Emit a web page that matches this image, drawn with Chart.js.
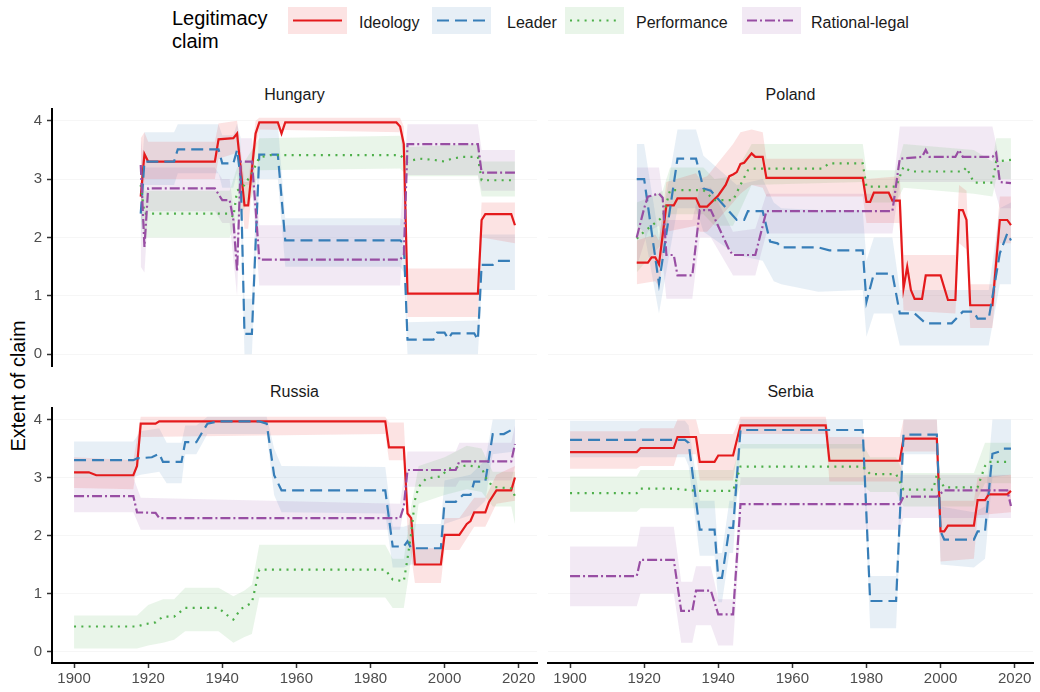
<!DOCTYPE html>
<html>
<head>
<meta charset="utf-8">
<script src="https://cdn.jsdelivr.net/npm/chart.js@4.4.1/dist/chart.umd.min.js"></script>
<style>
  html, body { margin: 0; padding: 0; background: #fff; }
  body { font-family: "Liberation Sans", Arial, Helvetica, sans-serif; }
  #wrap { position: relative; width: 1040px; height: 692px; overflow: hidden; background: #fff; }
  canvas { position: absolute; display: block; }
  .strip { position: absolute; width: 485px; text-align: center; font-size: 16px; line-height: 16px; color: #1a1a1a; }
  #ytitle { position: absolute; left: -82px; top: 374px; width: 200px; height: 24px; line-height: 24px;
            font-size: 20px; color: #000; text-align: center; transform: rotate(-90deg); }
  #ltitle { position: absolute; left: 172px; top: 6.5px; font-size: 20px; line-height: 23px; color: #000; }
  .lkey { position: absolute; top: 7px; }
  .ltext { position: absolute; top: 14.5px; font-size: 16px; line-height: 16px; color: #1a1a1a; white-space: nowrap; }
</style>
</head>
<body>
<div id="wrap">
  <div id="ltitle">Legitimacy<br>claim</div>
  <div id="legend"></div>

  <div class="strip" style="left:52px; top:86.5px;">Hungary</div>
  <div class="strip" style="left:548px; top:86.5px;">Poland</div>
  <div class="strip" style="left:52px; top:383.5px;">Russia</div>
  <div class="strip" style="left:548px; top:383.5px;">Serbia</div>

  <div id="ytitle">Extent of claim</div>

  <canvas id="hungary" width="540" height="270" style="left:0px; top:100px;"></canvas>
  <canvas id="poland" width="500" height="270" style="left:540px; top:100px;"></canvas>
  <canvas id="russia" width="540" height="292" style="left:0px; top:400px;"></canvas>
  <canvas id="serbia" width="500" height="292" style="left:540px; top:400px;"></canvas>
</div>

<script>
// ---- axis ticks and claim categories ----
const xTicks = [1900, 1920, 1940, 1960, 1980, 2000, 2020];
const yTicks = [0, 1, 2, 3, 4];
const claimNames = ['Ideology', 'Leader', 'Performance', 'Rational-legal'];

// ---- Hungary: [year, estimate] and [year, lower, upper] ----
const hunIdeology = [[1918,2.7],[1919,3.43],[1920,3.3],[1938,3.3],[1939,3.68],[1943,3.7],[1944,3.78],[1946,2.55],[1947,2.55],[1949,3.78],[1950,3.97],[1955,3.97],[1956,3.78],[1957,3.97],[1987,3.97],[1988,3.9],[1989,3.6],[1990,1.04],[2009,1.04],[2010,2.3],[2011,2.4],[2018,2.4],[2019,2.21]];
const hunIdeologyBand = [[1918,2.3,3.7],[1919,3.0,3.8],[1920,3.0,3.64],[1938,3.0,3.64],[1939,3.35,3.95],[1944,3.45,4.0],[1946,2.15,2.95],[1947,2.15,2.95],[1949,3.5,4.0],[1950,3.85,4.05],[1988,3.8,4.05],[1989,3.3,3.9],[1990,0.64,1.47],[2009,0.64,1.47],[2010,2.0,2.6],[2019,1.9,2.6]];
const hunLeader = [[1918,2.41],[1919,3.3],[1927,3.3],[1928,3.51],[1939,3.51],[1940,3.27],[1943,3.27],[1944,3.5],[1945,3.0],[1946,0.35],[1948,0.35],[1950,3.42],[1955,3.42],[1957,1.95],[1988,1.95],[1989,1.9],[1990,0.25],[1997,0.25],[1998,0.37],[2000,0.37],[2001,0.27],[2002,0.36],[2008,0.36],[2009,0.25],[2010,1.53],[2013,1.53],[2014,1.6],[2019,1.6]];
const hunLeaderBand = [[1918,1.9,3.0],[1919,2.9,3.8],[1927,2.9,3.8],[1928,3.1,3.94],[1939,3.1,3.94],[1940,2.85,3.75],[1943,2.85,3.75],[1944,3.1,3.95],[1945,2.3,3.7],[1946,0,0.95],[1948,0,0.95],[1950,3.0,3.95],[1955,3.0,3.95],[1957,1.5,2.33],[1988,1.5,2.33],[1989,1.4,2.3],[1990,0,0.55],[2009,0,0.58],[2010,1.1,2.05],[2019,1.1,2.05]];
const hunPerformance = [[1918,2.9],[1919,2.41],[1942,2.41],[1943,2.35],[1944,2.8],[1946,2.9],[1948,3.1],[1950,3.37],[1953,3.41],[1988,3.41],[1990,3.3],[1993,3.35],[1997,3.33],[2000,3.3],[2002,3.35],[2005,3.38],[2009,3.38],[2010,2.98],[2019,2.98]];
const hunPerformanceBand = [[1918,2.3,3.3],[1919,2.0,2.8],[1942,2.0,2.8],[1944,2.3,3.2],[1946,2.5,3.3],[1948,2.7,3.5],[1950,3.15,3.7],[1988,3.18,3.74],[1990,3.05,3.55],[2009,3.05,3.6],[2010,2.7,3.3],[2019,2.7,3.3]];
const hunRational = [[1918,3.24],[1919,1.84],[1920,2.84],[1938,2.84],[1940,2.64],[1942,2.64],[1943,2.3],[1944,1.42],[1945,3.3],[1948,3.3],[1949,2.5],[1950,1.62],[1988,1.62],[1989,1.7],[1990,3.6],[2009,3.6],[2010,3.11],[2019,3.11]];
const hunRationalBand = [[1918,1.5,3.7],[1919,1.4,3.2],[1920,2.45,3.2],[1938,2.45,3.2],[1940,2.25,3.0],[1942,2.25,3.0],[1944,1.0,2.0],[1945,2.9,3.7],[1948,2.9,3.7],[1950,1.18,2.21],[1988,1.18,2.21],[1990,3.07,3.94],[2009,3.07,3.94],[2010,2.8,3.5],[2019,2.8,3.5]];

// ---- Poland ----
const polIdeology = [[1918,1.57],[1921,1.57],[1922,1.66],[1923,1.66],[1924,1.54],[1926,2.55],[1928,2.55],[1929,2.67],[1934,2.67],[1935,2.53],[1937,2.53],[1940,2.72],[1942,2.9],[1943,3.05],[1944,3.08],[1945,3.12],[1946,3.26],[1947,3.28],[1949,3.44],[1950,3.38],[1952,3.38],[1953,3.02],[1979,3.02],[1980,2.61],[1981,2.61],[1982,2.77],[1986,2.77],[1987,2.63],[1989,2.63],[1990,1.13],[1991,1.5],[1992,1.1],[1993,0.95],[1995,0.95],[1996,1.35],[2000,1.35],[2002,0.93],[2004,0.93],[2005,2.47],[2006,2.47],[2007,2.3],[2008,0.84],[2014,0.84],[2016,2.3],[2018,2.3],[2019,2.21]];
const polIdeologyBand = [[1918,1.2,1.95],[1923,1.25,2.05],[1924,1.15,1.95],[1926,2.1,2.95],[1934,2.2,3.1],[1935,2.1,3.0],[1937,2.1,3.05],[1944,2.6,3.6],[1946,2.75,3.8],[1949,2.9,3.85],[1952,2.85,3.8],[1953,2.7,3.35],[1979,2.7,3.35],[1980,2.25,3.0],[1989,2.25,3.05],[1990,0.75,1.7],[2004,0.7,1.7],[2005,1.9,2.9],[2007,1.8,2.8],[2008,0.45,1.2],[2014,0.45,1.2],[2016,1.9,2.7],[2019,1.9,2.7]];
const polLeader = [[1918,3.0],[1920,3.0],[1924,1.21],[1929,3.35],[1934,3.35],[1936,2.84],[1938,2.8],[1945,2.3],[1947,2.3],[1948,2.45],[1952,2.45],[1954,1.93],[1956,1.9],[1957,1.83],[1967,1.83],[1970,1.78],[1979,1.78],[1980,0.9],[1982,1.38],[1987,1.38],[1989,0.7],[1993,0.7],[1996,0.53],[2003,0.53],[2006,0.73],[2009,0.73],[2010,0.61],[2013,0.61],[2016,1.73],[2018,2.07],[2019,1.95]];
const polLeaderBand = [[1918,2.2,3.6],[1920,2.1,3.6],[1924,0.7,2.0],[1929,2.5,3.85],[1934,2.5,3.85],[1936,2.1,3.4],[1945,1.7,2.9],[1952,1.6,3.0],[1955,1.25,2.6],[1957,1.2,2.5],[1967,1.07,2.47],[1979,1.1,2.47],[1980,0.3,1.6],[1982,0.7,2.0],[1987,0.7,2.0],[1989,0.15,1.1],[2013,0.15,1.1],[2016,1.2,2.5],[2019,1.2,2.6]];
const polPerformance = [[1918,1.98],[1920,2.1],[1922,2.2],[1925,2.35],[1927,2.81],[1936,2.81],[1939,2.64],[1944,2.64],[1946,2.9],[1948,3.15],[1949,3.18],[1968,3.18],[1970,3.27],[1979,3.27],[1980,2.87],[1988,2.87],[1990,3.21],[1992,3.13],[2006,3.13],[2007,3.2],[2009,2.94],[2014,2.94],[2015,3.3],[2019,3.33]];
const polPerformanceBand = [[1918,1.4,2.6],[1922,1.7,2.7],[1925,1.9,2.8],[1927,2.4,3.2],[1936,2.4,3.2],[1939,2.2,3.0],[1944,2.2,3.05],[1949,2.9,3.6],[1979,2.95,3.6],[1980,2.6,3.15],[1988,2.6,3.15],[1990,2.85,3.6],[2009,2.75,3.5],[2014,2.7,3.3],[2015,3.0,3.7],[2019,3.0,3.7]];
const polRational = [[1918,2.0],[1920,2.5],[1921,2.7],[1924,2.75],[1925,2.68],[1926,1.7],[1928,1.7],[1929,1.35],[1933,1.35],[1935,2.47],[1938,2.47],[1943,1.78],[1944,1.7],[1950,1.7],[1953,2.45],[1987,2.45],[1989,3.35],[1995,3.38],[1996,3.5],[1997,3.38],[2004,3.38],[2005,3.5],[2006,3.38],[2014,3.38],[2015,3.45],[2016,2.95],[2019,2.93]];
const polRationalBand = [[1918,1.5,3.2],[1921,2.1,3.2],[1924,2.2,3.2],[1926,0.95,2.3],[1933,0.95,2.3],[1935,2.0,2.85],[1938,2.0,2.85],[1944,1.35,2.1],[1950,1.35,2.15],[1953,2.07,2.75],[1987,2.07,2.75],[1989,2.95,3.9],[2014,2.95,3.9],[2016,2.5,3.3],[2019,2.5,3.3]];

// ---- Russia ----
const rusIdeology = [[1900,3.09],[1904,3.09],[1906,3.04],[1916,3.04],[1917,3.2],[1918,3.93],[1922,3.93],[1923,3.97],[1984,3.97],[1985,3.52],[1989,3.52],[1990,2.38],[1991,2.3],[1992,1.5],[1999,1.5],[2000,2.01],[2004,2.01],[2006,2.2],[2007,2.25],[2008,2.4],[2011,2.4],[2012,2.58],[2014,2.78],[2018,2.78],[2019,3.0]];
const rusIdeologyBand = [[1900,2.82,3.35],[1916,2.8,3.3],[1918,3.7,4.05],[1984,3.75,4.05],[1985,3.3,3.95],[1989,3.3,3.95],[1990,2.1,2.7],[1992,1.18,1.78],[1999,1.18,1.78],[2000,1.75,2.3],[2004,1.75,2.3],[2008,2.15,2.65],[2011,2.15,2.65],[2014,2.55,3.05],[2019,2.6,3.2]];
const rusLeader = [[1900,3.3],[1916,3.3],[1917,3.33],[1921,3.35],[1923,3.41],[1924,3.27],[1929,3.27],[1930,3.61],[1933,3.61],[1936,3.93],[1939,3.97],[1950,3.97],[1952,3.93],[1954,3.04],[1956,2.78],[1984,2.78],[1986,1.81],[1989,1.81],[1990,1.9],[1991,1.78],[1999,1.78],[2000,2.58],[2003,2.58],[2005,2.7],[2007,2.7],[2008,2.93],[2011,2.93],[2013,3.75],[2016,3.75],[2018,3.82],[2019,3.82]];
const rusLeaderBand = [[1900,3.0,3.62],[1916,3.0,3.62],[1918,3.05,3.8],[1923,3.1,3.85],[1925,2.9,3.6],[1929,2.9,3.6],[1930,3.4,3.9],[1933,3.4,3.9],[1936,3.75,4.05],[1952,3.75,4.05],[1954,2.7,3.5],[1956,2.4,3.2],[1984,2.38,3.18],[1986,1.45,2.15],[1989,1.45,2.15],[1991,1.5,2.2],[1999,1.5,2.2],[2000,2.2,2.95],[2007,2.35,3.05],[2011,2.6,3.3],[2013,3.4,4.0],[2019,3.45,4.0]];
const rusPerformance = [[1900,0.43],[1917,0.43],[1919,0.47],[1922,0.5],[1924,0.6],[1927,0.6],[1930,0.75],[1939,0.75],[1941,0.64],[1943,0.55],[1945,0.73],[1948,0.84],[1950,1.41],[1984,1.41],[1986,1.24],[1989,1.21],[1990,1.6],[1991,2.04],[1992,2.61],[1993,2.84],[1995,2.98],[1999,3.02],[2001,3.15],[2006,3.21],[2010,3.18],[2011,3.01],[2013,2.84],[2018,2.81],[2019,2.68]];
const rusPerformanceBand = [[1900,0.05,0.62],[1917,0.05,0.62],[1920,0.1,0.8],[1924,0.15,0.9],[1927,0.2,0.9],[1930,0.35,1.1],[1939,0.35,1.1],[1943,0.15,0.95],[1946,0.25,1.05],[1948,0.3,1.15],[1950,0.93,1.84],[1984,0.93,1.84],[1986,0.75,1.6],[1989,0.75,1.6],[1991,1.6,2.5],[1993,2.55,3.2],[2000,2.7,3.35],[2006,2.8,3.55],[2010,2.75,3.5],[2013,2.5,3.1],[2018,2.5,3.1],[2019,2.2,3.1]];
const rusRational = [[1900,2.68],[1916,2.68],[1917,2.4],[1922,2.39],[1923,2.3],[1988,2.3],[1989,2.5],[1990,3.13],[2003,3.13],[2004,3.28],[2018,3.28],[2019,3.58]];
const rusRationalBand = [[1900,2.4,3.0],[1916,2.4,3.0],[1918,2.1,2.65],[1988,2.1,2.55],[1990,2.84,3.45],[2003,2.84,3.45],[2004,2.95,3.6],[2018,2.95,3.6],[2019,3.2,3.9]];

// ---- Serbia ----
const srbIdeology = [[1900,3.44],[1918,3.44],[1919,3.51],[1928,3.51],[1929,3.7],[1934,3.7],[1935,3.27],[1939,3.27],[1940,3.38],[1944,3.38],[1946,3.9],[1969,3.9],[1970,3.29],[1989,3.29],[1990,3.67],[1999,3.67],[2000,2.07],[2001,2.07],[2002,2.17],[2009,2.17],[2010,2.61],[2012,2.61],[2013,2.71],[2018,2.71],[2019,2.77]];
const srbIdeologyBand = [[1900,3.15,3.8],[1918,3.15,3.8],[1919,3.2,3.85],[1928,3.2,3.85],[1929,3.4,4.0],[1934,3.4,4.0],[1935,2.95,3.75],[1944,2.95,3.75],[1946,3.75,4.05],[1969,3.75,4.05],[1970,2.93,3.7],[1989,2.93,3.7],[1990,3.45,4.0],[1999,3.45,4.0],[2000,1.55,2.6],[2009,1.6,2.6],[2010,2.35,3.0],[2019,2.4,3.05]];
const srbLeader = [[1900,3.65],[1931,3.65],[1932,3.6],[1935,2.1],[1939,2.1],[1940,1.27],[1941,1.27],[1943,2.13],[1944,2.13],[1946,3.82],[1979,3.82],[1981,0.87],[1988,0.87],[1990,3.74],[1999,3.74],[2000,2.07],[2001,1.93],[2009,1.93],[2010,2.07],[2012,2.07],[2014,3.41],[2016,3.45],[2017,3.5],[2019,3.5]];
const srbLeaderBand = [[1900,3.35,3.98],[1931,3.35,3.98],[1932,3.2,3.9],[1935,1.65,2.6],[1939,1.65,2.6],[1940,0.85,1.7],[1941,0.85,1.7],[1943,1.7,2.6],[1944,1.7,2.6],[1946,3.5,4.0],[1979,3.5,4.0],[1981,0.4,1.3],[1988,0.4,1.3],[1990,3.4,4.0],[1999,3.4,4.0],[2000,1.5,2.5],[2009,1.45,2.4],[2012,1.6,2.5],[2014,3.0,4.0],[2019,3.05,4.0]];
const srbPerformance = [[1900,2.73],[1918,2.73],[1919,2.81],[1928,2.81],[1934,2.77],[1944,2.77],[1946,3.19],[1979,3.19],[1981,3.06],[1988,3.06],[1990,2.79],[1998,2.79],[1999,3.05],[2001,2.83],[2010,2.83],[2012,3.2],[2013,3.27],[2019,3.27]];
const srbPerformanceBand = [[1900,2.41,3.02],[1918,2.41,3.02],[1919,2.47,3.13],[1944,2.47,3.13],[1946,2.87,3.58],[1979,2.87,3.58],[1981,2.75,3.35],[1988,2.75,3.35],[1990,2.5,3.08],[2009,2.5,3.08],[2012,2.9,3.6],[2019,2.9,3.6]];
const srbRational = [[1900,1.3],[1918,1.3],[1919,1.58],[1928,1.58],[1930,0.7],[1933,0.7],[1934,1.05],[1938,1.05],[1940,0.64],[1944,0.64],[1946,2.54],[1989,2.54],[1990,2.67],[1999,2.67],[2001,2.78],[2018,2.78],[2019,2.51]];
const srbRationalBand = [[1900,0.78,1.81],[1918,0.78,1.81],[1919,1.0,2.15],[1928,1.0,2.15],[1930,0.15,1.2],[1933,0.15,1.2],[1934,0.45,1.47],[1938,0.45,1.47],[1940,0.1,0.9],[1944,0.1,0.9],[1946,2.1,3.0],[1989,2.1,3.0],[1990,2.3,3.05],[2019,2.3,3.05]];

// ---- styling of the four claims ----
const claimColors = ['#e41a1c', '#377eb8', '#4daf4a', '#984ea3'];
const claimFills = ['rgba(228,26,28,0.12)', 'rgba(55,126,184,0.12)', 'rgba(77,175,74,0.12)', 'rgba(152,78,163,0.12)'];
const claimDashes = [[], [12, 6], [2, 5.3], [10, 3, 2, 3]];
const lineWidth = 2.2;
const tickFont = { family: '"Liberation Sans", Arial, Helvetica, sans-serif', size: 15 };

Chart.defaults.font.family = '"Liberation Sans", Arial, Helvetica, sans-serif';

// ---- legend (HTML text + small key swatches) ----
(function buildLegend() {
  const legend = document.getElementById('legend');
  const keyLeft = [288, 432, 565, 742];
  const textLeft = [359, 507, 636, 811];
  const svgNS = 'http://www.w3.org/2000/svg';
  claimNames.forEach((name, i) => {
    const svg = document.createElementNS(svgNS, 'svg');
    svg.setAttribute('class', 'lkey');
    svg.setAttribute('width', '59');
    svg.setAttribute('height', '27');
    svg.style.left = keyLeft[i] + 'px';
    const rect = document.createElementNS(svgNS, 'rect');
    rect.setAttribute('x', '0'); rect.setAttribute('y', '0');
    rect.setAttribute('width', '59'); rect.setAttribute('height', '27');
    rect.setAttribute('fill', claimFills[i]);
    svg.appendChild(rect);
    const ln = document.createElementNS(svgNS, 'line');
    ln.setAttribute('x1', '5'); ln.setAttribute('x2', '54');
    ln.setAttribute('y1', '13.5'); ln.setAttribute('y2', '13.5');
    ln.setAttribute('stroke', claimColors[i]);
    ln.setAttribute('stroke-width', String(lineWidth));
    if (claimDashes[i].length) ln.setAttribute('stroke-dasharray', claimDashes[i].join(' '));
    svg.appendChild(ln);
    legend.appendChild(svg);
    const label = document.createElement('div');
    label.className = 'ltext';
    label.style.left = textLeft[i] + 'px';
    label.textContent = name;
    legend.appendChild(label);
  });
})();

// ---- one facet panel ----
function drawPanel(canvasId, lines, bands, layout) {
  const datasets = [];
  bands.forEach((band, i) => {
    datasets.push({
      label: claimNames[i] + ' upper',
      data: band.map(r => ({ x: r[0], y: r[2] })),
      borderColor: 'rgba(0,0,0,0)', borderWidth: 0, pointRadius: 0,
      fill: false, order: 10, tension: 0
    });
    datasets.push({
      label: claimNames[i] + ' lower',
      data: band.map(r => ({ x: r[0], y: r[1] })),
      borderColor: 'rgba(0,0,0,0)', borderWidth: 0, pointRadius: 0,
      backgroundColor: claimFills[i], fill: '-1', order: 10, tension: 0
    });
  });
  lines.forEach((line, i) => {
    datasets.push({
      label: claimNames[i],
      data: line.map(p => ({ x: p[0], y: p[1] })),
      borderColor: claimColors[i], borderWidth: lineWidth, borderDash: claimDashes[i],
      borderCapStyle: 'butt', borderJoinStyle: 'miter',
      pointRadius: 0, fill: false, order: 3 - i, tension: 0
    });
  });

  new Chart(document.getElementById(canvasId), {
    type: 'line',
    data: { datasets },
    options: {
      responsive: false,
      animation: false,
      events: [],
      layout: { padding: { top: layout.padTop, right: layout.padRight, bottom: layout.padBottom, left: 0 } },
      plugins: { legend: { display: false }, tooltip: { enabled: false }, title: { display: false } },
      scales: {
        x: {
          type: 'linear', min: 1894.05, max: 2024.95,
          display: layout.xAxis,
          afterBuildTicks: s => { s.ticks = xTicks.map(v => ({ value: v })); },
          afterFit: s => {
            s.height = layout.xAxis ? 29 : 0;
            s.paddingLeft = 0; s.paddingRight = 0;
          },
          ticks: { font: tickFont, color: '#4d4d4d', padding: 2, maxRotation: 0, autoSkip: false,
                   callback: v => String(v) },
          grid: { drawOnChartArea: false, drawTicks: true, tickLength: 5, tickColor: '#333', tickWidth: 1.5 },
          border: { display: true, color: '#000', width: 2 }
        },
        y: {
          type: 'linear', min: -0.2, max: 4.2,
          afterBuildTicks: s => { s.ticks = yTicks.map(v => ({ value: v })); },
          afterFit: s => {
            s.width = layout.yWidth;
            s.paddingTop = 0; s.paddingBottom = 0;
          },
          ticks: { display: layout.yLabels, font: tickFont, color: '#4d4d4d', padding: 5,
                   callback: v => String(v) },
          grid: { color: 'rgba(0,0,0,0.035)', lineWidth: 1, drawTicks: layout.yLabels, tickLength: 5,
                  tickColor: '#333', tickWidth: 1.5 },
          border: { display: layout.yLabels, color: '#000', width: 2 }
        }
      }
    }
  });
}

drawPanel('hungary',
  [hunIdeology, hunLeader, hunPerformance, hunRational],
  [hunIdeologyBand, hunLeaderBand, hunPerformanceBand, hunRationalBand],
  { padTop: 9, padRight: 3, padBottom: 4, yWidth: 52, yLabels: true, xAxis: false });

drawPanel('poland',
  [polIdeology, polLeader, polPerformance, polRational],
  [polIdeologyBand, polLeaderBand, polPerformanceBand, polRationalBand],
  { padTop: 9, padRight: 7, padBottom: 4, yWidth: 8, yLabels: false, xAxis: false });

drawPanel('russia',
  [rusIdeology, rusLeader, rusPerformance, rusRational],
  [rusIdeologyBand, rusLeaderBand, rusPerformanceBand, rusRationalBand],
  { padTop: 8, padRight: 3, padBottom: 0, yWidth: 52, yLabels: true, xAxis: true });

drawPanel('serbia',
  [srbIdeology, srbLeader, srbPerformance, srbRational],
  [srbIdeologyBand, srbLeaderBand, srbPerformanceBand, srbRationalBand],
  { padTop: 8, padRight: 7, padBottom: 0, yWidth: 8, yLabels: false, xAxis: true });
</script>
</body>
</html>
